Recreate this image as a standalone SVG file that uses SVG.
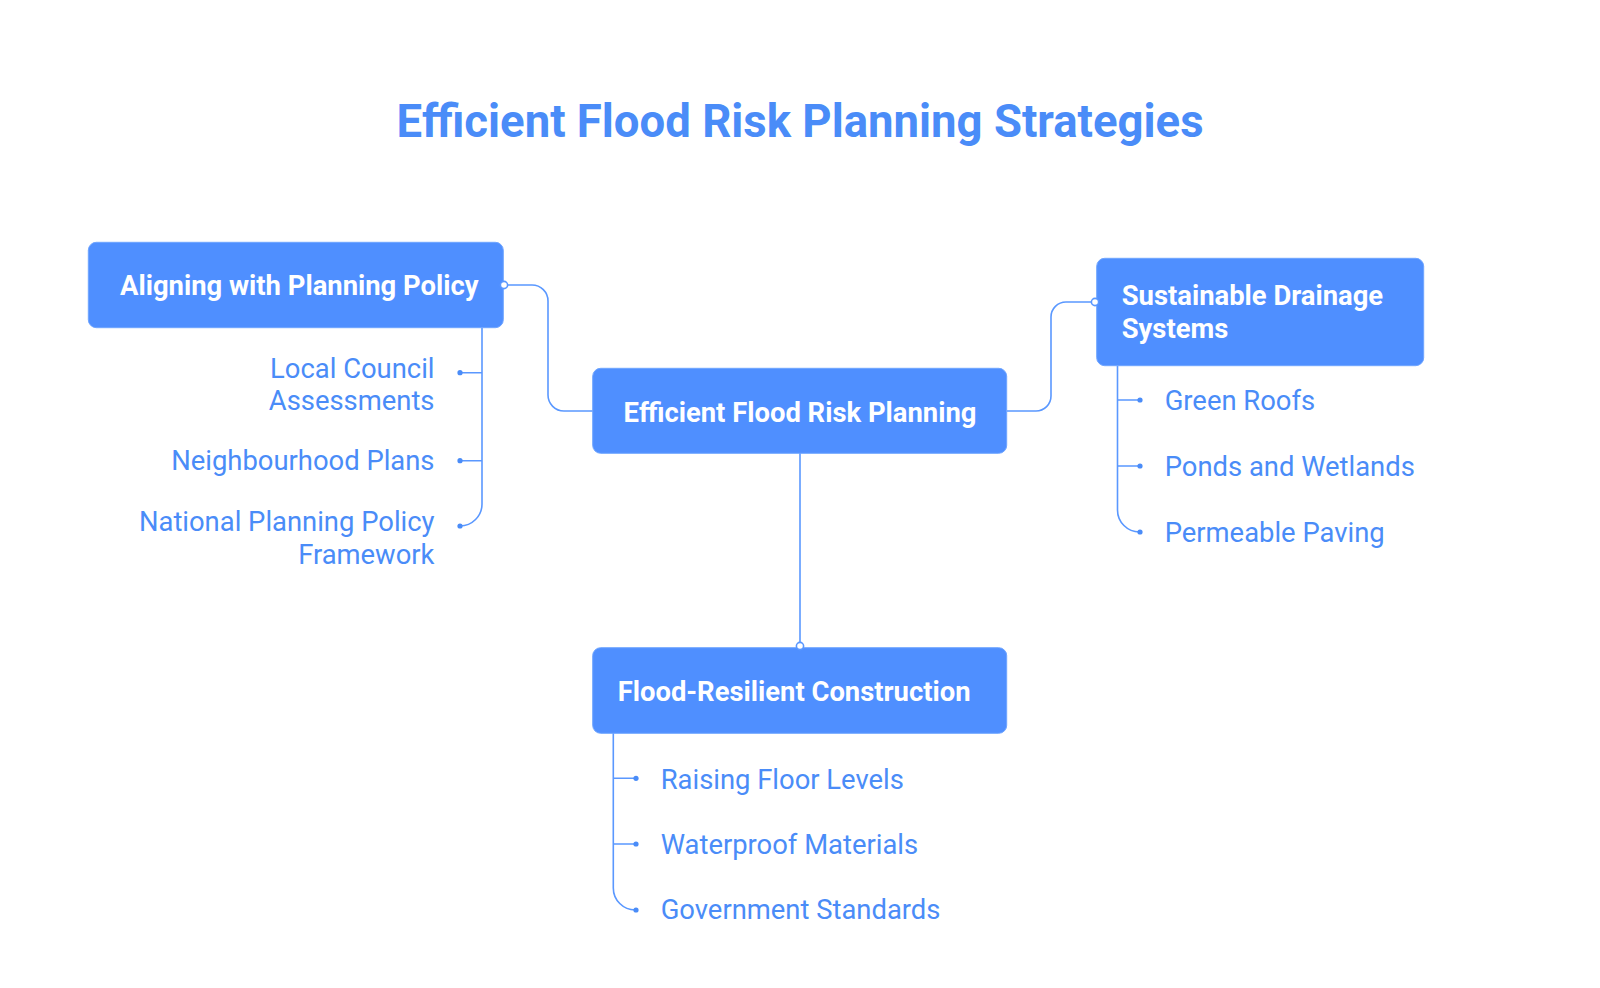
<svg xmlns="http://www.w3.org/2000/svg" width="1600" height="988" viewBox="0 0 1600 988">
<style>
.box{fill:#4F8FFF;stroke:#6FA5FF;stroke-width:1}
.nt{font-family:Roboto,"Liberation Sans",sans-serif;font-weight:700;font-size:27.4px;fill:#FFFFFF}
.lt{font-family:Roboto,"Liberation Sans",sans-serif;font-weight:400;font-size:27.4px;fill:#4A8CF8}
.ln{fill:none;stroke:#5A98FF;stroke-width:1.6}
.dot{fill:#4A8CF8}
.hole{fill:#FFFFFF;stroke:#5A98FF;stroke-width:1.6}
</style>
<rect width="1600" height="988" fill="#FFFFFF"/>
<text x="800" y="137" text-anchor="middle" font-family="Roboto,'Liberation Sans',sans-serif" font-weight="700" font-size="45.5" fill="#4A8CF8">Efficient Flood Risk Planning Strategies</text>
<g id="connectors">
<path class="ln" d="M504 285 H532 A16 16 0 0 1 548 301 V395 A16 16 0 0 0 564 411 H593"/>
<path class="ln" d="M1007 411 H1036 A15 15 0 0 0 1051 396 V317 A15 15 0 0 1 1066 302 H1095"/>
<path class="ln" d="M800 453 V646"/>
<path class="ln" d="M482 328 V504 A22 22 0 0 1 460 526 M482 372.7 H460 M482 460.7 H460"/>
<path class="ln" d="M1117.5 366 V510 A22 22 0 0 0 1139.5 532 M1117.5 400 H1140 M1117.5 466 H1140"/>
<path class="ln" d="M613.3 733 V888 A22 22 0 0 0 635.3 910 M613.3 778.3 H636 M613.3 844 H636"/>
<circle class="dot" cx="460" cy="372.7" r="2.6"/>
<circle class="dot" cx="460" cy="460.7" r="2.6"/>
<circle class="dot" cx="460" cy="526" r="2.6"/>
<circle class="dot" cx="1140" cy="400" r="2.6"/>
<circle class="dot" cx="1140" cy="466" r="2.6"/>
<circle class="dot" cx="1140" cy="532" r="2.6"/>
<circle class="dot" cx="636" cy="778.3" r="2.6"/>
<circle class="dot" cx="636" cy="844" r="2.6"/>
<circle class="dot" cx="636" cy="910" r="2.6"/>
</g>
<g id="node-policy">
<rect class="box" x="88.3" y="242.3" width="415" height="85.4" rx="8"/>
<text class="nt" x="120" y="295">Aligning with Planning Policy</text>
<circle class="hole" cx="504" cy="285" r="3.6"/>
</g>
<g id="node-center">
<rect class="box" x="592.7" y="368.3" width="414" height="85" rx="8"/>
<text class="nt" x="800" y="421.5" text-anchor="middle">Efficient Flood Risk Planning</text>
</g>
<g id="node-drainage">
<rect class="box" x="1096.7" y="258.3" width="327" height="107.4" rx="8"/>
<text class="nt" x="1121.7" y="305">Sustainable Drainage</text>
<text class="nt" x="1121.7" y="338">Systems</text>
<circle class="hole" cx="1095" cy="302" r="3.6"/>
</g>
<g id="node-construction">
<rect class="box" x="592.7" y="647.7" width="414" height="85.6" rx="8"/>
<text class="nt" x="617.7" y="701">Flood-Resilient Construction</text>
<circle class="hole" cx="800" cy="646" r="3.6"/>
</g>
<g id="leaf-local"><text class="lt" x="434.5" y="377.5" text-anchor="end">Local Council</text><text class="lt" x="434.5" y="410" text-anchor="end">Assessments</text></g>
<g id="leaf-neighbourhood"><text class="lt" x="434.5" y="470" text-anchor="end">Neighbourhood Plans</text></g>
<g id="leaf-national"><text class="lt" x="434.5" y="531" text-anchor="end">National Planning Policy</text><text class="lt" x="434.5" y="563.5" text-anchor="end">Framework</text></g>
<g id="leaf-green"><text class="lt" x="1164.7" y="410">Green Roofs</text></g>
<g id="leaf-ponds"><text class="lt" x="1164.7" y="476">Ponds and Wetlands</text></g>
<g id="leaf-paving"><text class="lt" x="1164.7" y="541.5">Permeable Paving</text></g>
<g id="leaf-floor"><text class="lt" x="660.7" y="788.5">Raising Floor Levels</text></g>
<g id="leaf-waterproof"><text class="lt" x="660.7" y="853.5">Waterproof Materials</text></g>
<g id="leaf-standards"><text class="lt" x="660.7" y="919">Government Standards</text></g>
</svg>
